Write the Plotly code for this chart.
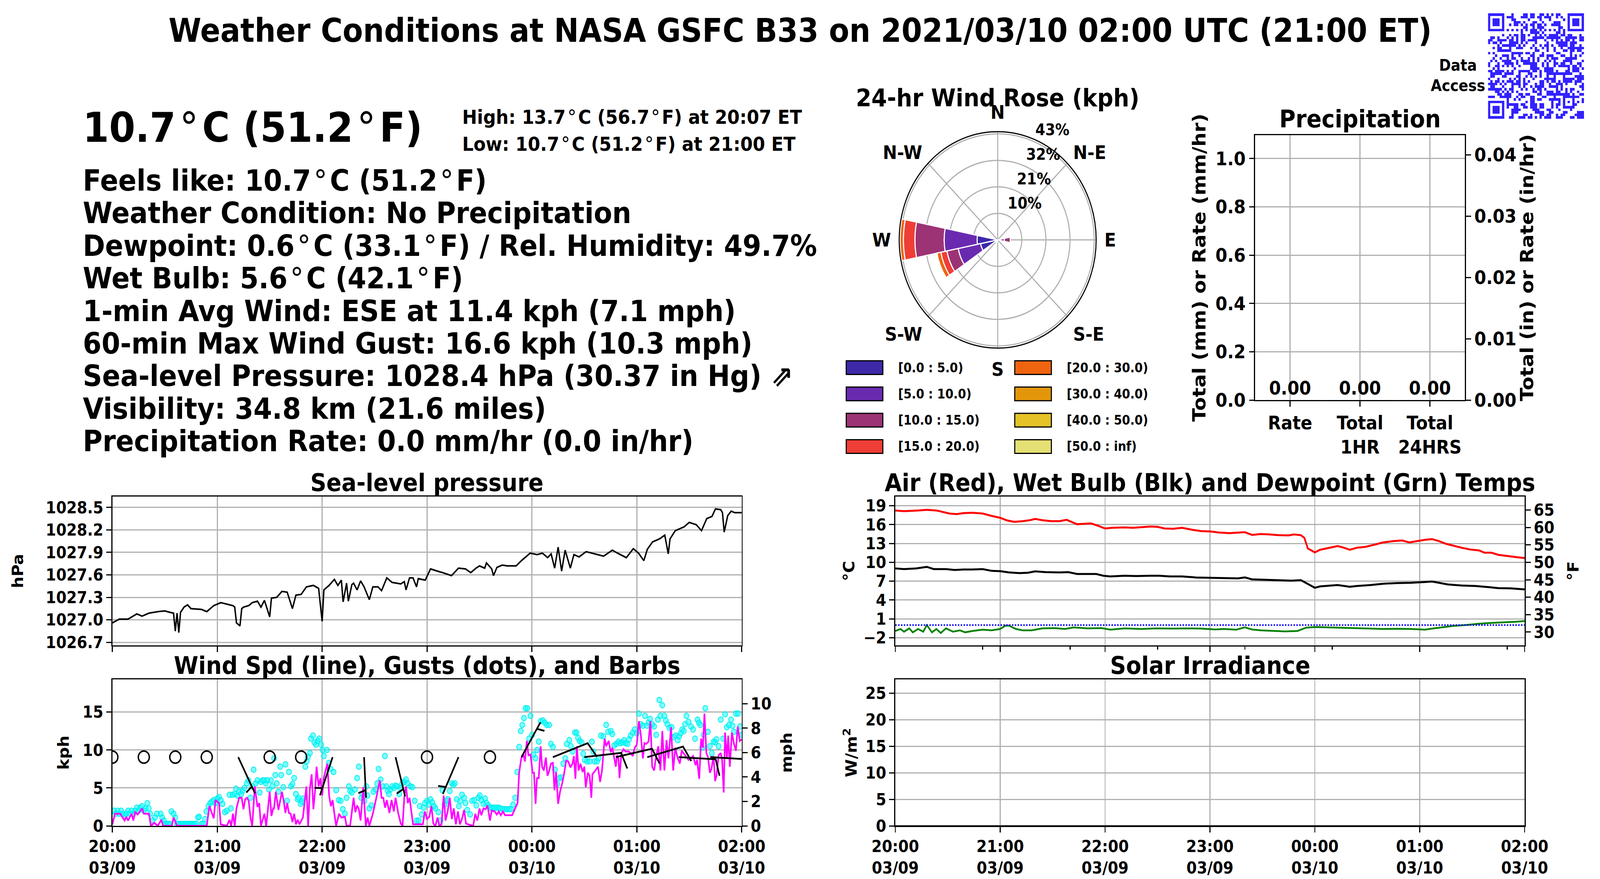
import numpy as np
import pandas as pd
import plotly.graph_objects as go

W, H = 4500, 2250
FONT = "DejaVu Sans"
T0 = pd.Timestamp("2021-03-09 20:00")
T1 = pd.Timestamp("2021-03-10 02:00")
GRID = "#b0b0b0"

# ---------------- data ----------------
pressure = [(0,1026.96),(4,1027.01),(9,1027.01),(11,1027.04),(14,1027.08),(17,1027.05),(21,1027.09),(26,1027.11),
 (30,1027.12),(33,1027.10),(35,1027.09),(36,1026.85),(37,1027.09),(38,1026.83),(39,1027.10),(41,1027.17),(43,1027.20),
 (45,1027.15),(51,1027.14),(54,1027.11),(58,1027.19),(62,1027.23),(66,1027.21),(69,1027.19),(70,1027.17),(71,1026.96),
 (73,1026.92),(74,1027.15),(75,1027.17),(78,1027.19),(80,1027.23),(83,1027.25),(85,1027.17),(87,1027.26),(90,1027.04),
 (91,1027.29),(94,1027.30),(97,1027.38),(100,1027.37),(103,1027.15),(105,1027.33),(108,1027.34),(111,1027.44),
 (115,1027.46),(118,1027.42),(120,1026.98),(121,1027.40),(124,1027.46),(127,1027.54),(129,1027.46),(131,1027.53),
 (132,1027.24),(134,1027.49),(135,1027.25),(137,1027.47),(138,1027.49),(140,1027.40),(142,1027.52),(144,1027.44),
 (147,1027.27),(149,1027.44),(152,1027.44),(154,1027.39),(157,1027.56),(160,1027.50),(165,1027.48),(167,1027.51),
 (168,1027.40),(170,1027.56),(172,1027.56),(174,1027.44),(175,1027.55),(179,1027.53),(182,1027.68),(186,1027.65),
 (189,1027.63),(194,1027.59),(198,1027.69),(202,1027.68),(205,1027.63),(208,1027.69),(210,1027.72),(213,1027.69),
 (214,1027.76),(217,1027.68),(218,1027.59),(220,1027.70),(223,1027.73),(226,1027.72),(231,1027.72),(234,1027.79),
 (236,1027.83),(239,1027.89),(243,1027.87),(246,1027.89),(249,1027.83),(251,1027.88),(253,1027.69),(255,1027.97),
 (257,1027.65),(259,1027.93),(262,1027.69),(264,1027.87),(267,1027.84),(271,1027.91),(276,1027.88),(281,1027.85),
 (286,1027.93),(289,1027.89),(294,1027.83),(298,1027.95),(301,1027.89),(304,1027.79),(306,1027.94),(309,1028.04),
 (313,1028.08),(316,1028.13),(318,1027.88),(319,1028.08),(322,1028.19),(327,1028.24),(330,1028.30),(334,1028.27),
 (337,1028.19),(340,1028.35),(343,1028.38),(345,1028.48),(348,1028.47),(349,1028.43),(350,1028.17),(352,1028.39),
 (354,1028.45),(356,1028.43),(360,1028.43)]

wind_speed = [(0,0.2),(1.5,1.6),(4.5,1.6),(7,0.7),(8,1.2),(9,0.7),(11,1.6),(12,0.7),(13,1.8),(14.5,1.5),(17,2.3),
 (18,1.6),(21,1.6),(22,0),(24,0.4),(26,0),(28,0.8),(29,0),(34,0),(35,1.1),(37,0),(54,0),(55.5,2.6),(57,1.7),(58,1.0),
 (59,3.4),(61,3.0),(62,0.2),(65.5,0),(67,0.8),(68,0),(69,1.6),(70,0),(71,2.3),(72.5,3.7),(74,3.7),(75,2.2),(76,3.5),
 (77,3.7),(78,3.3),(79,1.1),(80,0),(81.5,5.2),(83,2.5),(84,3.0),(85,0),(87,1.6),(88,0),(90,4.5),(91,1.3),(92,2.3),
 (92.5,2.3),(93.5,4.5),(95,2.1),(97,4.5),(98,3.3),(99,1.7),(100,3.0),(101,1.7),(102,1.6),(103,0.5),(104,1.6),
 (105,0.2),(106,0.8),(107,0.2),(109,1.1),(111,5.2),(112,0),(113,4.9),(114,6.8),(115,2.2),(116,4.7),(116.8,7.8),
 (118,5.2),(119,6.3),(120,4.0),(121,6.4),(123,8.2),(124,4.0),(125,2.6),(126,3.4),(127,1.6),(128,0),(129.7,1.6),
 (131,1.1),(133,1.2),(134,0),(136,0),(138,3.7),(139,1.8),(140,2.7),(141,2.2),(142,0.7),(143.5,5.1),(145,0),(146,1.1),
 (147,0),(148,0.8),(149,1.6),(151,3.7),(153,6.0),(154,3.7),(155,3.7),(156,2.4),(157,3.4),(158.5,1.7),(159.7,3.4),
 (161,1.9),(162,3.7),(163.5,1.7),(165,0.3),(166,0),(167,3.8),(168,5.2),(169,3.0),(170,3.7),(172,0.2),(177.6,0.2),
 (178.8,1.9),(180,0.9),(181.3,1.2),(182.5,2.6),(183.6,0.3),(184.8,0),(186,1.1),(187,0),(188.3,0.2),(189.5,4.0),
 (190.6,0.7),(191.8,1.9),(193,3.7),(194.2,0.9),(195.3,2.3),(196.5,0.2),(197.7,1.9),(198.8,0.2),(200,0.9),(201.2,2.1),
 (202.3,0.3),(203.5,0.2),(204.7,0.1),(206.4,0),(207.6,1.6),(208.8,0.7),(210,2.3),(211.1,1.4),(212.3,2.3),(213.5,2.2),
 (214.6,2.7),(216,0.7),(217,2.0),(218.7,1.9),(219.9,1.5),(221,1.9),(222.2,1.4),(223.4,1.9),(224.6,1.4),(228.7,1.4),
 (230.4,2.3),(231.8,3.0),(232.7,7.0),(233.9,8.9),(235.1,9.4),(236,8.5),(237.1,11.2),(238,9.3),(239.2,9.4),(240.4,7.0),
 (241.2,7.0),(242.1,2.9),(242.9,6.3),(243.9,6.3),(245,10.5),(245.8,7.8),(246.8,7.3),(248,9.0),(248.9,6.6),(249.7,7.1),
 (250.9,8.2),(252,8.3),(252.9,4.7),(253.8,7.1),(255,2.9),(256.1,4.5),(257.3,5.6),(258.5,7.0),(259.6,8.6),(260.8,8.5),
 (262,7.7),(263.2,8.2),(264,9.2),(264.9,6.2),(265.7,10.5),(266.7,7.3),(267.8,8.2),(269,7.1),(270,7.8),(270.8,5.1),
 (272,7.0),(273,6.6),(274,3.7),(274.6,6.8),(276.3,7.3),(277.8,7.8),(279,5.8),(280.1,7.3),(281.6,11.5),(282.5,10.5),
 (283.9,11.2),(285.1,9.7),(286,10.3),(287.1,8.9),(288,7.8),(288.7,9.3),(289.5,8.9),(290.1,6.3),(291.2,9.6),
 (292.4,10.1),(293.6,9.8),(295.3,9.8),(296.5,9.6),(297.7,9.2),(298.8,10.3),(300,10.7),(301.2,13.8),(302.3,12.0),
 (303.5,8.9),(304.3,10.9),(305.4,10.8),(306.7,11.1),(307.8,13.8),(308.8,7.8),(309.9,7.3),(311.1,9.2),(312.3,10.5),
 (313.5,7.3),(314.6,12.5),(315.8,7.3),(317,11.3),(318.1,8.9),(319.6,13.0),(320.8,7.3),(322,10.3),(323.2,9.1),
 (324.6,8.2),(325.7,9.9),(327.3,9.4),(328.4,9.1),(329.6,8.7),(331,8.9),(332.2,9.2),(333.6,8.0),(334.5,8.7),
 (335.7,6.2),(336.8,11.5),(337.8,10.3),(338.7,14.8),(339.8,9.6),(340.7,9.1),(341.8,7.0),(342.7,7.5),(343.9,9.2),
 (344.8,5.9),(345.6,6.6),(346.8,9.3),(348,9.6),(348.8,8.7),(349.7,4.4),(350.5,12.3),(351.5,8.9),(352.3,11.9),
 (353.2,7.8),(354.4,12.3),(355.6,10.8),(356.7,9.9),(357.7,13.1),(358.9,11.2),(360,11.4)]

wind_gust = [(1,2.0),(2,1.6),(3,2.0),(4,1.6),(5,2.0),(6,1.6),(7,1.3),(8,1.6),(9,2.0),(10,1.6),(11,2.0),(12,1.6),
 (13,2.0),(14,2.4),(15,2.0),(16,2.4),(17,2.6),(18,2.0),(19,2.3),(20,3.0),(20.8,2.3),(21.6,1.6),(23,0.7),(24.4,1.1),
 (25.5,1.6),(27.6,1.6),(28.5,1.1),(29.5,0.7),(30,0.26),(31,0.26),(32,0.26),(33,0.26),(33.8,1.9),(35,1.6),(36,1.1),
 (37,0.26),(38,0.26),(39,0.26),(40,0.26),(41,0.26),(42,0.26),(43,0.26),(44,0.26),(45,0.26),(46,0.26),(47,0.26),
 (48,0.26),(49,1.1),(49.6,1.2),(51,0.26),(52,0.26),(53,0.9),(53.8,1.9),(55,2.6),(56,3.0),(57,3.2),(58,3.4),(59,3.0),
 (60,3.6),(61,3.8),(62,3.4),(63,2.9),(64.3,1.8),(65.5,2.0),(67,4.1),(67.8,2.3),(68.7,4.1),(70,4.2),(70.8,4.9),
 (71.5,4.0),(72.5,4.5),(73.7,4.2),(74.5,4.6),(75.5,5.0),(76.9,5.6),(77.8,6.0),(79,3.7),(80,5.2),(80.8,7.4),(82,5.6),
 (83,6.0),(84.3,4.4),(85,5.8),(86,6.0),(87,6.0),(87.8,5.6),(88.7,6.0),(89.6,4.8),(90.7,6.0),(91.5,5.2),(92.5,8.9),
 (93.2,6.7),(94,5.6),(95,4.5),(96,7.8),(96.6,6.7),(97.8,5.1),(99,8.1),(100,3.3),(101,7.1),(102.2,5.2),(103,5.5),
 (104,6.3),(105,4.2),(106,3.5),(106.6,3.7),(107.7,2.9),(108.5,3.2),(109.3,3.6),(110.4,7.8),(111.2,8.5),(111.9,9.1),
 (113,9.6),(113.6,11.5),(114.8,11.9),(115.6,11.0),(116.5,10.7),(117.4,11.2),(118.3,11.5),(119.5,10.7),(120.3,10.0),
 (121,9.2),(122.7,10.0),(123.8,8.3),(124.8,7.5),(126.5,7.1),(128,4.7),(129.5,3.4),(130.6,3.3),(131.8,2.2),(133,1.6),
 (134,3.7),(135.3,5.2),(136,4.6),(137,4.4),(138.8,4.8),(140,6.3),(141,7.8),(142.4,3.7),(143,4.2),(144.1,3.3),
 (145.3,5.2),(146,4.0),(147,2.3),(148.2,2.7),(149.4,4.5),(150.6,4.8),(151.5,5.6),(152.3,7.5),(153.5,6.1),(154.7,5.2),
 (155.9,9.2),(156.7,5.2),(157.5,4.6),(158.2,4.2),(159,4.8),(160,5.2),(161,5.0),(162,5.3),(162.9,5.2),(164.1,4.2),
 (165,5.0),(165.8,5.6),(167,5.8),(168,6.1),(169,5.6),(170.5,5.2),(171.7,5.1),(172.9,3.3),(174,0.7),(175.2,0.7),
 (175.8,2.6),(177,1.5),(178,2.4),(178.8,3.0),(180,3.3),(181,2.8),(182,3.5),(183,3.1),(184,2.6),(184.8,2.3),
 (186.5,1.8),(187.7,0.7),(188.8,4.7),(190,2.8),(191,3.3),(191.8,3.5),(193,4.6),(194.2,5.6),(195,5.4),(195.9,5.6),
 (197,3.5),(198.2,2.6),(199,3.3),(200,4.1),(201.2,3.7),(202,3.0),(203,2.1),(204.7,1.5),(205.8,3.3),(207,3.4),
 (208.2,2.7),(209.4,3.7),(210.2,4.0),(211.1,3.4),(212.3,2.9),(213.2,3.6),(214,3.0),(215,2.7),(215.8,2.4),(217,2.4),
 (218,2.4),(218.7,2.4),(220,2.4),(221,2.4),(222,2.3),(223.4,2.2),(224.5,2.2),(225.7,2.2),(227,2.2),(228,2.2),
 (229.2,2.8),(230.4,3.7),(231.6,7.1),(232.7,10.4),(233.6,12.5),(234.5,13.3),(235.4,14.2),(236.3,15.5),(237.4,15.5),
 (238.4,11.5),(239.2,14.5),(240.1,12.0),(240.9,9.4),(242.1,8.9),(243,10.0),(243.9,11.1),(245,13.8),(246.2,13.9),
 (247.4,13.6),(248.5,13.3),(249.9,13.3),(250.9,10.8),(252,10.4),(253.2,7.4),(254.4,5.5),(255.6,6.3),(256.7,6.4),
 (257.9,8.2),(259.1,8.9),(259.9,10.8),(261.4,11.3),(262.3,10.5),(263.2,9.8),(264.6,12.3),(265.5,12.3),(266.4,11.6),
 (267.3,11.2),(268.4,11.0),(269.3,9.5),(270.2,8.7),(271.6,8.5),(273.1,8.5),(274.3,11.1),(275.1,9.8),(275.8,8.5),
 (277.2,8.5),(278.1,8.9),(279.5,11.9),(280.9,11.8),(282.5,13.3),(283.6,12.4),(285.1,12.5),(286,12.1),(287.1,10.6),
 (288.3,10.8),(289.5,11.1),(290.6,10.9),(291.8,11.0),(292.7,11.3),(293.6,10.9),(294.7,10.8),(295.6,11.4),(296.5,11.9),
 (297.7,12.3),(298.8,12.7),(300,12.2),(301.2,14.8),(302.3,13.4),(303.5,13.2),(304.7,14.5),(305.8,13.2),(306.7,13.6),
 (307.6,14.1),(308.8,13.4),(309.9,13.1),(311.1,12.0),(312.1,14.0),(312.9,16.6),(313.5,14.5),(314.6,15.9),(315.8,14.5),
 (316.6,13.9),(317.5,13.4),(318.7,12.9),(319.9,13.0),(321.1,11.7),(322.2,11.9),(323.4,11.3),(324.2,11.8),(325.1,12.2),
 (326,12.7),(326.9,12.5),(327.6,13.4),(328.4,14.5),(329.6,13.7),(331,13.1),(332.2,12.7),(333.3,11.5),(334.7,14.0),
 (335.5,13.6),(336.3,13.3),(337.4,10.3),(338.3,12.0),(339.2,15.5),(340.6,12.4),(341.8,10.5),(342.9,9.6),(343.9,11.1),
 (344.8,11.0),(345.6,11.4),(346.8,10.5),(348,14.0),(349.4,11.5),(350.5,14.7),(351.5,13.0),(352.7,13.3),(353.9,14.0),
 (354.8,13.2),(355.6,12.4),(356.7,14.8),(357.9,14.8),(359.1,13.1),(360,12.0)]

# barbs every 18 minutes (speed kph, direction deg-from)
barb_min = [0, 18, 36, 54, 72, 90, 108, 126, 144, 162, 180, 198, 216, 234, 252, 270, 288, 306, 324, 342, 360]
barb_kph = [0, 0, 0, 0, 5, 0, 0, 5, 5, 5, 0, 5, 0, 5, 10, 10, 10, 10, 10, 10, 10]
barb_dir = [0, 0, 0, 0, 153, 0, 0, 200, 177, 165, 0, 205, 0, 31, 70, 84, 78, 75, 93, 93, 93]
BARB_Y = 9.06

air_temp = [(0,18.26),(5,18.15),(13,18.26),(18,18.36),(23.5,18.26),(27,18.05),(31,17.77),(35,17.68),(39,17.83),
 (44,17.9),(50,17.77),(55,17.4),(60,17.09),(64,16.67),(68,16.45),(73,16.56),(77,16.71),(80,16.92),(84,16.71),
 (89,16.56),(94,16.56),(98,16.77),(100,16.56),(104,16.07),(108,16.14),(112,16.2),(116,15.82),(120,15.39),(124,15.5),
 (131,15.56),(136,15.5),(141,15.6),(146,15.71),(150,15.65),(154,15.39),(159,15.35),(164,15.5),(170,15.18),(175,14.97),
 (180,14.93),(185,14.76),(191,14.65),(196,14.76),(200,14.8),(204,14.37),(209,14.5),(214,14.44),(219,14.33),
 (225,14.29),(228,14.44),(232,14.33),(234,13.9),(236,12.2),(240,11.58),(243,12.0),(248,12.32),(253,12.59),
 (256,12.38),(260,12.0),(264,12.32),(269,12.47),(274,12.8),(279,13.17),(285,13.38),(290,13.48),(294,13.17),
 (298,13.38),(303,13.59),(307,13.7),(311,13.38),(315,12.95),(319,12.64),(324,12.32),(329,12.04),(334,11.89),
 (337,11.53),(341,11.53),(345,11.19),(350,10.98),(355,10.83),(360,10.68)]

wet_bulb = [(0,9.03),(5,8.92),(12,9.03),(18,9.28),(22,8.92),(29,8.92),(34,8.78),(39,8.86),(44,8.86),(50,8.92),
 (55,8.65),(60,8.6),(65,8.39),(71,8.29),(76,8.35),(80,8.56),(86,8.44),(94,8.39),(99,8.44),(104,8.14),(110,8.14),
 (115,8.14),(119,7.86),(123,7.76),(131,7.86),(138,7.82),(146,7.86),(151,7.86),(157,7.76),(164,7.76),(172,7.59),
 (180,7.54),(188,7.44),(196,7.44),(200,7.59),(204,7.29),(211,7.23),(219,7.12),(227,7.08),(232,7.16),(235,6.7),
 (238,6.17),(240,5.95),(243,6.17),(248,6.31),(253,6.38),(260,6.1),(264,6.23),(272,6.38),(279,6.59),(287,6.7),
 (295,6.74),(303,6.87),(307,6.95),(311,6.74),(316,6.48),(324,6.31),(332,6.23),(339,6.06),(345,5.89),(352,5.85),
 (360,5.68)]

dewpoint = [(0,-0.94),(3,-0.62),(5,-1.05),(8,-0.52),(10,-1.15),(13,-0.62),(16,-1.05),(18,0.01),(21,-1.15),
 (23.5,-0.62),(26,-1.26),(29,-0.52),(33,-1.05),(37,-0.84),(40,-1.15),(44,-0.94),(50,-0.73),(55,-0.84),(60,-0.62),
 (63,-0.09),(65,-0.09),(69,-0.62),(73,-0.84),(78,-0.84),(84,-0.52),(91,-0.48),(97,-0.62),(102,-0.37),(110,-0.52),
 (118,-0.48),(123,-0.73),(131,-0.52),(141,-0.62),(149,-0.52),(159,-0.56),(167,-0.52),(175,-0.56),(183,-0.69),
 (188,-0.62),(195,-0.73),(200,-0.35),(204,-0.69),(209,-0.84),(217,-0.94),(223,-1.0),(230,-0.94),(232,-0.73),
 (235,-0.41),(240,-0.3),(248,-0.35),(256,-0.41),(264,-0.48),(272,-0.56),(279,-0.62),(287,-0.58),(295,-0.62),
 (303,-0.73),(308,-0.52),(313,-0.35),(319,-0.14),(326,0.01),(334,0.23),(342,0.37),(350,0.44),(355,0.54),(360,0.65)]
FREEZE_C = 0.0

solar = [(0, 0.0), (360, 0.0)]

precip_cats = ["Rate", "Total<br>1HR", "Total<br>24HRS"]
precip_mm = [0.0, 0.0, 0.0]

# wind rose: percent per speed bin for each 22.5-degree sector
rose_sectors = [0, 22.5, 45, 67.5, 90, 112.5, 135, 157.5, 180, 202.5, 225, 247.5, 270, 292.5, 315, 337.5]
rose_bins = ["[0.0 : 5.0)", "[5.0 : 10.0)", "[10.0 : 15.0)", "[15.0 : 20.0)",
             "[20.0 : 30.0)", "[30.0 : 40.0)", "[40.0 : 50.0)", "[50.0 : inf)"]
rose_colors = ["#3d28a8", "#6a2ab0", "#9c3375", "#ee3e36", "#f06410", "#e3960a", "#e5c227", "#e5e074"]
rose_pct = [
    [0, 0, 0, 0, 0.8, 0, 0, 0, 0, 1.0, 0, 7.9, 9.3, 0, 0, 0],
    [0, 0, 0, 0, 2.2, 0, 0, 0, 0, 0, 0, 10.3, 14.9, 0, 0, 0],
    [0, 0, 0, 0, 2.7, 0, 0, 0, 0, 0, 0, 5.2, 13.2, 0, 0, 0],
    [0, 0, 0, 0, 0, 0, 0, 0, 0, 0, 0, 2.8, 5.2, 0, 0, 0],
    [0, 0, 0, 0, 0, 0, 0, 0, 0, 0, 0, 1.8, 1.5, 0, 0, 0],
    [0] * 16, [0] * 16, [0] * 16,
]
ROSE_MAX = 44.5
rose_ticks = [10.9, 21.8, 32.7, 43.6]
rose_ticktext = ["10%", "21%", "32%", "43%"]

# QR code modules (dark columns per row, finder/alignment patterns added below)
qr_rows = [
 [10,15,16,18,19,22,23,25,27,29,30], [8,9,10,14,15,16,18,19,21,22,24,25,26,29,31], [10,11,17,22,26,32],
 [11,12,13,15,19,20,23,28,29,30], [9,11,12,14,16,18,19,21,22,24,27,28,29,30], [15,16,19,21,22,23,30,31],
 [8,10,12,14,16,18,19,20,22,24,26,28,30,32], [14,18,19,20,21,23,29,30,32],
 [6,9,11,12,14,15,17,20,22,24,26,27,28,29,31,32,34,35,39],
 [1,2,4,8,10,12,14,15,19,20,21,22,23,25,26,27,28,29,30,33,34,35,36,37,39,40],
 [0,1,4,5,6,7,9,10,12,14,15,17,18,19,20,24,27,29,31,33,34,36,39,40],
 [0,2,3,5,9,10,11,12,14,16,20,25,29,30,31,32,33,35,36,37],
 [4,6,7,8,9,10,11,13,15,19,22,24,25,27,30,31,32,33,35,36,39],
 [2,4,5,9,12,13,14,18,20,23,25,28,31,34,35,36,37,38,39,40],
 [4,5,6,7,8,9,20,21,25,28,32,33,35,36,38,39], [0,2,10,11,12,13,14,16,17,19,23,29,30,35,40],
 [3,6,7,8,10,13,18,19,22,23,25,26,27,31,32,35,37,39], [2,5,8,10,11,14,17,19,21,25,27,28,29,33,34,35,36,37],
 [1,3,6,7,8,9,12,14,15,16,17,19,21,24,26,28,32,33,34,35,40],
 [0,4,7,8,9,10,12,15,16,17,18,19,20,23,25,28,29,31,32,35,38,39],
 [0,3,4,6,8,10,13,18,19,20,23,25,28,30,31,32,33,34,36,37,39], [2,4,11,18,19,20,21,24,25,26,27,34,36,37,38,40],
 [0,1,3,4,5,6,8,10,13,14,15,16,17,19,20,22,24,25,26,27,29,33,34,36,37,38],
 [1,2,3,4,5,7,8,9,10,13,17,18,22,25,26,27,28,29,30,31,32,33,34,35,39],
 [1,2,6,7,12,13,16,18,20,22,25,28,32,37,38,39,40], [0,4,9,11,13,15,19,24,25,26,27,28,32,33,34,35,36,38,39,40],
 [1,3,4,6,8,9,10,12,13,15,17,22,23,25,27,28,30,32,33,34,35,37,38,39],
 [0,1,2,3,5,7,10,11,12,13,15,16,20,22,23,26,29,30,31,33,37,40],
 [1,2,6,10,13,15,18,20,21,22,23,26,27,28,29,31,39,40], [0,1,2,3,4,5,7,9,10,14,16,19,21,22,24,29,31,33,35,36,40],
 [3,4,6,8,10,12,19,20,22,25,26,27,29,30,33,35,38],
 [4,5,7,8,9,13,14,16,17,21,22,25,26,27,28,29,30,31,32,33,34,36,39,40],
 [0,1,2,5,6,7,8,9,12,14,15,18,19,23,24,28,32,37,38], [8,11,13,18,19,21,22,26,27,28,29,30,32,33,34,35,36,40],
 [8,16,18,19,27,30,32,34,36,38,40], [8,9,10,11,12,14,15,18,19,20,22,23,27,29,30,32,36,37],
 [8,11,12,15,16,18,19,20,22,23,27,29,32,33,34,35,36], [10,11,12,13,19,20,21,25,26,30,35],
 [10,11,12,20,21,22,23,26,27,32,33,38,39,40], [10,15,16,18,22,23,25,26,29,31,32,37,38,39,40],
 [9,10,13,14,15,17,18,20,22,24,25,26,29,30,31,35,36,38,39,40]]

# ---------------- layout geometry (pixels) ----------------
L_X = (316, 2086)
R_X = (2518, 4288)
TOP_Y = (1271, 1652)
BOT_Y = (1739, 2114)
PREC_X = (3530, 4120)
PREC_Y = (346, 1024)
ROSE_C = (2806, 614)
ROSE_R = 277


def dx(p):
    return [p[0] / W, p[1] / W]


def dy(p):
    return [1 - p[1] / H, 1 - p[0] / H]


def tt(mins):
    return [T0 + pd.Timedelta(minutes=float(m)) for m in mins]


def split(pairs):
    return [p[0] for p in pairs], [p[1] for p in pairs]


def bold(size):
    return dict(family=FONT, size=size, color="black", weight="bold")


hour_ticks = list(pd.date_range(T0, T1, freq="h"))
hour_text = [f"{t:%H:%M}<br>{t:%m/%d}" for t in hour_ticks]

fig = go.Figure()

# pressure
pm, pv = split(pressure)
fig.add_trace(go.Scatter(x=tt(pm), y=pv, mode="lines", line=dict(color="black", width=4),
                         xaxis="x", yaxis="y", hoverinfo="skip"))

# wind gusts, speed, barbs
gm, gv = split(wind_gust)
fig.add_trace(go.Scatter(x=tt(gm), y=gv, mode="markers",
                         marker=dict(size=14, color="rgba(0,255,255,0.5)",
                                     line=dict(color="rgba(0,235,235,0.8)", width=2.5)),
                         xaxis="x2", yaxis="y2", hoverinfo="skip"))
wm, wv = split(wind_speed)
fig.add_trace(go.Scatter(x=tt(wm), y=wv, mode="lines", line=dict(color="magenta", width=4.5),
                         xaxis="x2", yaxis="y2", hoverinfo="skip"))
fig.add_trace(go.Scatter(x=tt(wm), y=[v / 1.609344 for v in wv], mode="lines",
                         line=dict(color="rgba(0,0,0,0)", width=0), xaxis="x2", yaxis="y3", hoverinfo="skip"))

KPH_MAX = 19.31
px_per_min = (L_X[1] - L_X[0]) / 360.0
px_per_kph = (BOT_Y[1] - BOT_Y[0]) / KPH_MAX
BL = 104.0
bx, by, calm = [], [], []
for m, s, d in zip(barb_min, barb_kph, barb_dir):
    if s < 2.5:
        calm.append(m)
        continue
    r = 5 * round(s / 5)
    n_full = (r % 50) // 10
    half = (r % 10) >= 5
    th = np.deg2rad(d)
    ux, uy = np.sin(th), np.cos(th)
    qx, qy = uy, -ux

    def to_data(a, b, m=m, ux=ux, uy=uy, qx=qx, qy=qy):
        ddx = a * ux + b * qx
        ddy = a * uy + b * qy
        return m + ddx / px_per_min, BARB_Y + ddy / px_per_kph

    pts = [to_data(0, 0), to_data(BL, 0)]
    off = BL
    for _ in range(n_full):
        pts += [to_data(off, 0), to_data(off + 0.125 * BL, 0.4 * BL), to_data(off, 0)]
        off -= 0.25 * BL
    if half:
        if off == BL:
            off -= 1.5 * 0.125 * BL
        pts += [to_data(off, 0), to_data(off + 0.0625 * BL, 0.2 * BL), to_data(off, 0)]
    for a, b in pts:
        bx.append(T0 + pd.Timedelta(minutes=float(a)))
        by.append(b)
    bx.append(None)
    by.append(None)
fig.add_trace(go.Scatter(x=bx, y=by, mode="lines", line=dict(color="black", width=4.5),
                         xaxis="x2", yaxis="y2", hoverinfo="skip"))
fig.add_trace(go.Scatter(x=tt(calm), y=[BARB_Y] * len(calm), mode="markers",
                         marker=dict(symbol="circle-open", size=31, color="black", line=dict(width=4)),
                         xaxis="x2", yaxis="y2", hoverinfo="skip"))

# temperatures
for series, col, lw in [(air_temp, "red", 5), (wet_bulb, "black", 5), (dewpoint, "green", 4.5)]:
    sm, sv = split(series)
    fig.add_trace(go.Scatter(x=tt(sm), y=sv, mode="lines", line=dict(color=col, width=lw),
                             xaxis="x3", yaxis="y4", hoverinfo="skip"))
fig.add_trace(go.Scatter(x=[T0, T1], y=[FREEZE_C, FREEZE_C], mode="lines",
                         line=dict(color="blue", width=4, dash="dot"), xaxis="x3", yaxis="y4", hoverinfo="skip"))
am, av = split(air_temp)
fig.add_trace(go.Scatter(x=tt(am), y=[v * 1.8 + 32 for v in av], mode="lines",
                         line=dict(color="rgba(0,0,0,0)", width=0), xaxis="x3", yaxis="y5", hoverinfo="skip"))

# solar
sm, sv = split(solar)
fig.add_trace(go.Scatter(x=tt(sm), y=sv, mode="lines", line=dict(color="black", width=3),
                         xaxis="x4", yaxis="y6", hoverinfo="skip"))

# precipitation
fig.add_trace(go.Bar(x=precip_cats, y=precip_mm, text=[f"{v:.2f}" for v in precip_mm],
                     textposition="outside", textfont=bold(48), cliponaxis=False,
                     marker_color="#1f77b4", xaxis="x5", yaxis="y7", hoverinfo="skip"))
fig.add_trace(go.Bar(x=precip_cats, y=[v / 25.4 for v in precip_mm], marker_color="rgba(0,0,0,0)",
                     xaxis="x5", yaxis="y8", hoverinfo="skip"))

# wind rose
for name, col, vals in zip(rose_bins, rose_colors, rose_pct):
    fig.add_trace(go.Barpolar(r=vals, theta=rose_sectors, width=22.5, name=name,
                              marker=dict(color=col, line=dict(color="white", width=3)),
                              subplot="polar", hoverinfo="skip"))

# QR code
N = 41
qr = [[0] * N for _ in range(N)]
for ri, cols in enumerate(qr_rows):
    for c in cols:
        qr[ri][c] = 1


def finder(r0, c0):
    for i in range(-1, 8):
        for j in range(-1, 8):
            r, c = r0 + i, c0 + j
            if 0 <= r < N and 0 <= c < N:
                ring = max(abs(i - 3), abs(j - 3))
                qr[r][c] = 1 if ring in (0, 1, 3) else 0


finder(0, 0)
finder(0, N - 7)
finder(N - 7, 0)
for i in range(5):
    for j in range(5):
        ring = max(abs(i - 2), abs(j - 2))
        qr[32 + i][32 + j] = 1 if ring in (0, 2) else 0
fig.add_trace(go.Heatmap(z=qr, colorscale=[[0, "white"], [1, "#3322ff"]], zmin=0, zmax=1,
                         showscale=False, xaxis="x6", yaxis="y9", hoverinfo="skip"))

# ---------------- axes ----------------
def time_axis(xd, anchor, labels, minor=False):
    ax = dict(type="date", domain=dx(xd), anchor=anchor, range=[T0, T1],
              tickmode="array", tickvals=hour_ticks, ticktext=hour_text, showticklabels=labels,
              tickfont=bold(42), showline=True, mirror=True, linecolor="black", linewidth=3,
              ticks="outside", ticklen=14, tickwidth=3, tickcolor="black",
              showgrid=True, gridcolor=GRID, gridwidth=3, zeroline=False)
    if minor:
        ax["minor"] = dict(tick0=T0, dtick=50 * 60 * 1000, ticks="outside", ticklen=8,
                           tickwidth=3, tickcolor="black", showgrid=False)
    return ax


def val_axis(yd, anchor, rng, tickvals, fmt, title, side="left", overlay=None, tsize=42, titsize=42,
             standoff=12):
    ax = dict(domain=dy(yd), anchor=anchor, range=rng, tickmode="array", tickvals=tickvals,
              tickformat=fmt, tickfont=bold(tsize), showline=True, linecolor="black", linewidth=3,
              ticks="outside", ticklen=14, tickwidth=3, tickcolor="black",
              showgrid=True, gridcolor=GRID, gridwidth=3, zeroline=False, side=side,
              title=dict(text=title, font=bold(titsize), standoff=standoff))
    if overlay:
        ax["overlaying"] = overlay
        ax["showgrid"] = False
    else:
        ax["mirror"] = True
    return ax


layout = dict(
    width=W, height=H, margin=dict(l=0, r=0, t=0, b=0, autoexpand=False), paper_bgcolor="white",
    plot_bgcolor="white", showlegend=False, font=dict(family=FONT, color="black"),
    xaxis=time_axis(L_X, "y", False),
    yaxis=val_axis(TOP_Y, "x", [1026.66, 1028.645], [1026.7, 1027.0, 1027.3, 1027.6, 1027.9, 1028.2, 1028.5],
                   ".1f", "hPa", standoff=50),
    xaxis2=time_axis(L_X, "y2", True),
    yaxis2=val_axis(BOT_Y, "x2", [0, KPH_MAX], [0, 5, 10, 15], "d", "kph", standoff=26),
    yaxis3=val_axis(BOT_Y, "x2", [0, KPH_MAX / 1.609344], [0, 2, 4, 6, 8, 10, 12], "d", "mph",
                    side="right", overlay="y2", standoff=29),
    xaxis3=time_axis(R_X, "y4", False, minor=True),
    yaxis4=val_axis(TOP_Y, "x3", [-3.23, 20.48], [-2, 1, 4, 7, 10, 13, 16, 19], "d", "°C"),
    yaxis5=val_axis(TOP_Y, "x3", [-3.23 * 1.8 + 32, 20.48 * 1.8 + 32], [30, 35, 40, 45, 50, 55, 60, 65], "d",
                    "°F", side="right", overlay="y4", standoff=40),
    xaxis4=time_axis(R_X, "y6", True),
    yaxis6=val_axis(BOT_Y, "x4", [0, 27.6], [0, 5, 10, 15, 20, 25], "d", "W/m<sup>2</sup>"),
    xaxis5=dict(domain=dx(PREC_X), anchor="y7", type="category", range=[-0.5, 2.5], tickfont=bold(48),
                showline=True, mirror=True, linecolor="black", linewidth=3, ticks="outside", ticklen=14,
                tickwidth=3, tickcolor="black", showgrid=True, gridcolor=GRID, gridwidth=3),
    yaxis7=val_axis(PREC_Y, "x5", [0, 1.097], [0, 0.2, 0.4, 0.6, 0.8, 1.0], ".1f",
                    "Total (mm) or Rate (mm/hr)", tsize=48, titsize=51),
    yaxis8=val_axis(PREC_Y, "x5", [0, 1.097 / 25.4], [0, 0.01, 0.02, 0.03, 0.04], ".2f",
                    "Total (in) or Rate (in/hr)", side="right", overlay="y7", tsize=48, titsize=51),
    xaxis6=dict(domain=[4185 / W, 4455 / W], anchor="y9", range=[-0.5, 40.5], visible=False),
    yaxis9=dict(domain=[1 - 304 / H, 1 - 34 / H], anchor="x6", range=[40.5, -0.5], visible=False),
    polar=dict(
        domain=dict(x=[(ROSE_C[0] - ROSE_R) / W, (ROSE_C[0] + ROSE_R) / W],
                    y=[1 - (ROSE_C[1] + ROSE_R) / H, 1 - (ROSE_C[1] - ROSE_R) / H]),
        bgcolor="white", barmode="stack",
        angularaxis=dict(rotation=90, direction="clockwise", tickmode="array",
                         tickvals=[0, 45, 90, 135, 180, 225, 270, 315],
                         ticktext=["N", "N-E", "E", "S-E", "S", "S-W", "W", "N-W"],
                         tickfont=bold(48), showline=True, linecolor="black", linewidth=3,
                         gridcolor=GRID, gridwidth=3, ticks="outside", ticklen=12,
                         tickcolor="rgba(0,0,0,0)"),
        radialaxis=dict(range=[0, ROSE_MAX], tickmode="array", tickvals=rose_ticks, ticktext=rose_ticktext,
                        showticklabels=False, showline=False, gridcolor=GRID, gridwidth=3, ticks=""),
    ),
)
fig.update_layout(**layout)

# ---------------- text ----------------
ann = []


def text(x, y, s, size, xanchor="left", align="left", yanchor="middle"):
    ann.append(dict(x=x / W, y=1 - y / H, xref="paper", yref="paper", text=s, showarrow=False,
                    xanchor=xanchor, yanchor=yanchor, align=align, font=bold(size)))


DEG = "\u200a<span style='font-weight:normal'>°</span>\u200a"
text(2250, 78, "Weather Conditions at NASA GSFC B33 on 2021/03/10 02:00 UTC (21:00 ET)", 83.5, "center")
text(231, 327, f"10.7{DEG}C (51.2{DEG}F)", 106)
text(1298, 300, f"High: 13.7{DEG}C (56.7{DEG}F) at 20:07 ET", 50)
text(1298, 369, f"Low: 10.7{DEG}C (51.2{DEG}F) at 21:00 ET", 50)
lines = [
    f"Feels like: 10.7{DEG}C (51.2{DEG}F)",
    "Weather Condition: No Precipitation",
    f"Dewpoint: 0.6{DEG}C (33.1{DEG}F) / Rel. Humidity: 49.7%",
    f"Wet Bulb: 5.6{DEG}C (42.1{DEG}F)",
    "1-min Avg Wind: ESE at 11.4 kph (7.1 mph)",
    "60-min Max Wind Gust: 16.6 kph (10.3 mph)",
    "Sea-level Pressure: 1028.4 hPa (30.37 in Hg) ⇗",
    "Visibility: 34.8 km (21.6 miles)",
    "Precipitation Rate: 0.0 mm/hr (0.0 in/hr)",
]
for i, s in enumerate(lines):
    text(231, 462 + 83.4 * i, s, 75.5)

text((L_X[0] + L_X[1]) / 2, 1235, "Sea-level pressure", 62.5, "center")
text((L_X[0] + L_X[1]) / 2, 1703, "Wind Spd (line), Gusts (dots), and Barbs", 62.5, "center")
text((R_X[0] + R_X[1]) / 2, 1235, "Air (Red), Wet Bulb (Blk) and Dewpoint (Grn) Temps", 62.5, "center")
text((R_X[0] + R_X[1]) / 2, 1703, "Solar Irradiance", 62.5, "center")
text((PREC_X[0] + PREC_X[1]) / 2, 305, "Precipitation", 62.5, "center")
text(ROSE_C[0], 250, "24-hr Wind Rose (kph)", 63, "center")
text(4100, 193, "Data<br>Access", 40, "center", "center")

# radial labels of the wind rose along the 22.5-degree spoke
for v, lab in zip(rose_ticks, rose_ticktext):
    rp = v / ROSE_MAX * ROSE_R
    ang = np.deg2rad(22.5)
    text(ROSE_C[0] + rp * np.sin(ang), ROSE_C[1] - rp * np.cos(ang) - 6, lab, 40, "left", yanchor="bottom")

# wind-rose legend (2 columns x 4 rows)
shapes = []
for i, (name, col) in enumerate(zip(rose_bins, rose_colors)):
    colx = 2380 if i < 4 else 2854
    rowy = 941 + 67.3 * (i % 4)
    shapes.append(dict(type="rect", xref="paper", yref="paper", x0=colx / W, x1=(colx + 103) / W,
                       y0=1 - (rowy + 17.5) / H, y1=1 - (rowy - 17.5) / H, fillcolor=col,
                       line=dict(color="black", width=3)))
    text(colx + 144, rowy, name, 33)

fig.update_layout(annotations=ann, shapes=shapes)

post = """
(function(){
  var gd = document.getElementById('{plot_id}');
  document.documentElement.style.margin = '0';
  document.documentElement.style.padding = '0';
  document.documentElement.style.overflow = 'hidden';
  document.body.style.margin = '0';
  document.body.style.padding = '0';
  document.body.style.overflow = 'hidden';
  gd.style.position = 'fixed';
  gd.style.left = '0px';
  gd.style.top = '0px';
  gd.style.transformOrigin = '0 0';
  function fit(){
    var sx = window.innerWidth / 4500, sy = window.innerHeight / 2250;
    gd.style.transform = 'scale(' + sx + ',' + sy + ')';
  }
  fit();
  window.addEventListener('resize', fit);
})();
"""
fig.write_html("out.html", post_script=post, config={"displayModeBar": False})
